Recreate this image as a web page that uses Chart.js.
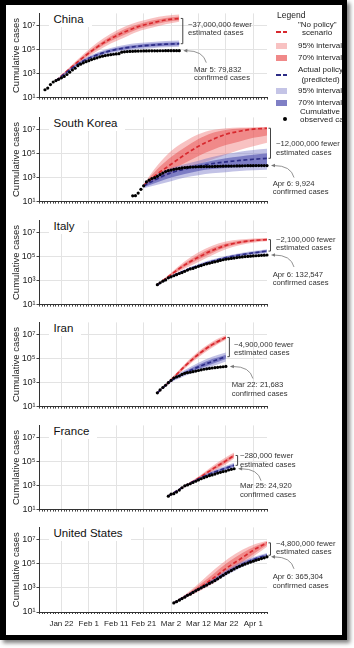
<!DOCTYPE html>
<html><head><meta charset="utf-8"><title>Anti-contagion policies and COVID-19 cases</title>
<script src="https://cdn.jsdelivr.net/npm/chart.js@4.4.1/dist/chart.umd.min.js"></script>
<style>
html,body{margin:0;padding:0;background:#fff;}
body{width:354px;height:648px;position:relative;overflow:hidden;font-family:'Liberation Sans',Arial,Helvetica,sans-serif;color:#222;}
#clip{position:absolute;left:0;top:0;width:342px;height:635px;overflow:hidden;background:#fff;}
#frame{position:absolute;left:0;top:0;width:347px;height:640px;box-sizing:border-box;border-style:solid;border-color:#000;border-width:5px 5px 5px 6px;box-shadow:3px 3px 4px rgba(0,0,0,0.5);pointer-events:none;}
canvas{position:absolute;left:0;}
.ttl{position:absolute;background:#fff;font-size:11.5px;line-height:13px;padding:0 8px 1px 5px;color:#111;white-space:nowrap;}
.note{position:absolute;font-size:7.7px;line-height:8.8px;color:#333;white-space:nowrap;}
.lg{position:absolute;font-size:8px;line-height:8px;color:#222;white-space:nowrap;}
.sw{position:absolute;}
</style></head><body>
<div id="clip">
 <div id="legend">
  <div class="lg" style="left:277px;top:10.5px;font-size:8.5px;line-height:9px">Legend</div>
  <div class="sw" style="left:276px;top:31.2px;width:5px;height:1.6px;background:#d8282e"></div>
  <div class="sw" style="left:283px;top:31.2px;width:4px;height:1.6px;background:#d8282e"></div>
  <div class="lg" style="left:298px;top:21px;width:38px;text-align:center">"No policy"<br>scenario</div>
  <div class="sw" style="left:276px;top:43px;width:11px;height:6px;background:#f8c2c2"></div>
  <div class="lg" style="left:298px;top:42px">95% interval</div>
  <div class="sw" style="left:276px;top:55px;width:11px;height:6px;background:#f08989"></div>
  <div class="lg" style="left:298px;top:54px">70% interval</div>
  <div class="sw" style="left:276px;top:74.2px;width:5px;height:1.6px;background:#2c2c86"></div>
  <div class="sw" style="left:283px;top:74.2px;width:4px;height:1.6px;background:#2c2c86"></div>
  <div class="lg" style="left:298px;top:65.25px;width:45px;text-align:center;line-height:9.5px">Actual policy<br>(predicted)</div>
  <div class="sw" style="left:276px;top:88px;width:11px;height:6px;background:#c4c4e6"></div>
  <div class="lg" style="left:298px;top:87px">95% interval</div>
  <div class="sw" style="left:276px;top:100px;width:11px;height:6px;background:#7f7fc5"></div>
  <div class="lg" style="left:298px;top:99px">70% interval</div>
  <div class="sw" style="left:282.7px;top:116.7px;width:4.6px;height:4.6px;border-radius:50%;background:#000"></div>
  <div class="lg" style="left:300px;top:107.75px">Cumulative<br>observed cases</div>
 </div>
</div>
<div id="frame"></div>
<script>
// ---------- axis ticks ----------
const dayLabels = ['Jan 22','Feb 1','Feb 11','Feb 21','Mar 2','Mar 12','Mar 22','Apr 1'];
const dayLabelValues = [0,10,20,30,40,50,60,70];           // days since Jan 22
const yTickValues = [1e1,1e2,1e3,1e4,1e5,1e6,1e7,1e8];
const yTickText   = ['10\u00B9','','10\u00B3','','10\u2075','','10\u2077',''];
const countryNames = ['China','South Korea','Italy','Iran','France','United States'];

// ---------- observed cumulative cases (daily) ----------
const chinaObsStart = -6;   // Jan 16
const chinaObserved = [45,62,121,198,258,330,440,571,830,1287,1975,2744,4515,5974,7711,9692,11791,14380,17205,20438,24324,28018,31161,34546,37198,40171,42638,44653,59804,63851,66492,68500,70548,72436,74185,74576,75465,76288,76936,77150,77658,78064,78497,78824,79251,79400,79550,79650,79740,79832];
const koreaObsStart = 26;   // Feb 17
const koreaObserved = [30,31,51,104,204,433,602,833,977,1261,1766,2337,3150,3736,4212,4812,5328,5766,6284,6767,7134,7382,7513,7755,7869,7979,8086,8162,8236,8320,8413,8565,8652,8799,8897,8961,9037,9137,9241,9332,9478,9583,9661,9700,9760,9800,9840,9870,9900,9924];
const italyObsStart = 35;   // Feb 26
const italyObserved = [453,655,888,1128,1694,2036,2502,3089,3858,4636,5883,7375,9172,10149,12462,15113,17660,21157,24747,27980,31506,35713,41035,47021,53578,59138,63927,69176,74386,80589,86498,92472,97689,101739,105792,110574,115242,119827,124632,128948,132547];
const iranObsStart = 35;    // Feb 26
const iranObserved = [139,245,388,593,978,1501,2336,2922,3513,4747,5823,6566,7161,8042,9000,10075,11364,12729,13938,14991,16169,17361,18407,19644,20610,21683];
const franceObsStart = 39;  // Mar 1
const franceObserved = [130,191,212,285,423,653,949,1126,1412,1784,2281,2876,3661,4499,5423,6633,7652,9043,10871,12612,14459,16018,19600,22100,24920];
const usObsStart = 41;      // Mar 3
const usObserved = [56,72,95,128,170,240,300,420,560,750,1000,1300,1700,2300,3000,4000,5600,7800,11000,15000,20000,27000,36000,47000,60000,75000,92000,112000,135000,162000,192000,225000,262000,305000,365304];

// ---------- model projections, log10(cases) ----------
const chinaModelDays = [-2,3,8,13,18,23,28,33,38,43];
const chinaNoPolicy = {
  mean:[2.4,3.4,4.35,5.2,5.9,6.45,6.9,7.2,7.45,7.58],
  lo95:[2.35,3.25,4.1,4.85,5.5,6.0,6.5,6.8,7.1,7.3], hi95:[2.45,3.55,4.6,5.55,6.3,6.9,7.3,7.6,7.8,7.9],
  lo70:[2.38,3.33,4.23,5.03,5.7,6.22,6.7,7.0,7.28,7.44], hi70:[2.42,3.47,4.47,5.37,6.1,6.68,7.1,7.4,7.62,7.74]};
const chinaActual = {
  mean:[2.4,3.3,4.05,4.55,4.9,5.12,5.27,5.37,5.44,5.48],
  lo95:[2.35,3.2,3.9,4.35,4.68,4.87,5.01,5.11,5.18,5.22], hi95:[2.45,3.4,4.2,4.75,5.12,5.37,5.53,5.63,5.7,5.74],
  lo70:[2.38,3.25,3.98,4.45,4.79,4.99,5.14,5.24,5.31,5.35], hi70:[2.42,3.35,4.12,4.65,5.01,5.25,5.4,5.5,5.57,5.61]};

const koreaModelDays = [30,35,40,45,50,55,60,65,70,75];
const koreaNoPolicy = {
  mean:[2.35,3.3,4.1,4.9,5.6,6.15,6.6,6.85,7.02,7.1],
  lo95:[2.3,2.8,3.3,3.7,4.1,4.5,4.9,5.3,5.6,5.9], hi95:[2.45,4.0,5.2,6.0,6.6,6.95,7.1,7.15,7.18,7.2],
  lo70:[2.32,3.0,3.6,4.2,4.8,5.3,5.7,6.0,6.3,6.5], hi70:[2.4,3.7,4.7,5.5,6.2,6.7,6.95,7.08,7.12,7.15]};
const koreaActual = {
  mean:[2.3,2.9,3.4,3.7,3.95,4.15,4.3,4.42,4.52,4.6],
  lo95:[2.1,2.4,2.7,3.0,3.2,3.35,3.45,3.55,3.6,3.65], hi95:[2.45,3.3,3.8,4.1,4.4,4.7,4.95,5.15,5.3,5.4],
  lo70:[2.2,2.6,3.0,3.3,3.55,3.7,3.8,3.85,3.9,3.95], hi70:[2.38,3.1,3.6,3.9,4.15,4.4,4.6,4.75,4.9,5.0]};

const italyModelDays = [35,40,45,50,55,60,65,70,75];
const italyNoPolicy = {
  mean:[2.65,3.5,4.3,4.95,5.5,5.92,6.18,6.33,6.4],
  lo95:[2.6,3.35,4.0,4.55,5.1,5.6,5.94,6.15,6.26], hi95:[2.7,3.65,4.6,5.35,5.9,6.25,6.42,6.5,6.53],
  lo70:[2.62,3.42,4.15,4.75,5.3,5.76,6.06,6.24,6.33], hi70:[2.68,3.58,4.45,5.15,5.7,6.08,6.3,6.42,6.47]};
const italyActual = {
  mean:[2.65,3.32,3.82,4.25,4.6,4.9,5.12,5.3,5.45],
  lo95:[2.62,3.26,3.72,4.13,4.46,4.76,4.97,5.15,5.3], hi95:[2.68,3.38,3.92,4.37,4.74,5.04,5.27,5.45,5.6],
  lo70:[2.63,3.29,3.77,4.19,4.53,4.83,5.04,5.22,5.37], hi70:[2.67,3.35,3.87,4.31,4.67,4.97,5.2,5.38,5.53]};

const iranModelDays = [35,40,45,50,55,60];
const iranNoPolicy = {
  mean:[2.15,3.2,4.35,5.35,6.15,6.75],
  lo95:[2.1,3.05,4.15,5.1,5.9,6.55], hi95:[2.2,3.35,4.55,5.6,6.4,6.95],
  lo70:[2.12,3.12,4.25,5.23,6.02,6.65], hi70:[2.18,3.28,4.45,5.47,6.28,6.85]};
const iranActual = {
  mean:[2.15,3.15,3.8,4.3,4.75,5.15],
  lo95:[2.1,3.0,3.55,3.95,4.35,4.75], hi95:[2.2,3.3,4.05,4.65,5.15,5.5],
  lo70:[2.12,3.08,3.68,4.13,4.55,4.95], hi70:[2.18,3.22,3.92,4.47,4.95,5.32]};

const franceModelDays = [39,45,50,55,60,63];
const franceNoPolicy = {
  mean:[2.12,2.95,3.6,4.35,5.05,5.5],
  lo95:[2.09,2.88,3.45,4.1,4.75,5.25], hi95:[2.15,3.02,3.75,4.6,5.35,5.75],
  lo70:[2.1,2.91,3.52,4.22,4.9,5.37], hi70:[2.14,2.99,3.68,4.48,5.2,5.63]};
const franceActual = {
  mean:[2.12,2.95,3.55,4.05,4.45,4.68],
  lo95:[2.09,2.9,3.45,3.9,4.25,4.46], hi95:[2.15,3.0,3.65,4.2,4.65,4.9],
  lo70:[2.1,2.92,3.5,3.97,4.35,4.56], hi70:[2.14,2.98,3.6,4.13,4.55,4.8]};

const usModelDays = [41,46,51,56,61,66,71,75];
const usNoPolicy = {
  mean:[1.75,2.4,3.1,3.9,4.75,5.5,6.25,6.72],
  lo95:[1.7,2.25,2.8,3.45,4.2,4.95,5.75,6.4], hi95:[1.8,2.6,3.55,4.55,5.45,6.15,6.65,6.9],
  lo70:[1.72,2.3,2.9,3.6,4.4,5.15,5.95,6.55], hi70:[1.78,2.5,3.35,4.25,5.15,5.88,6.47,6.82]};
const usActual = {
  mean:[1.75,2.4,3.0,3.65,4.35,4.95,5.42,5.7],
  lo95:[1.7,2.3,2.88,3.48,4.14,4.73,5.2,5.52], hi95:[1.8,2.5,3.15,3.85,4.6,5.2,5.62,5.88],
  lo70:[1.72,2.35,2.93,3.55,4.22,4.82,5.3,5.6], hi70:[1.78,2.45,3.08,3.76,4.48,5.08,5.53,5.8]};

// ---------- annotation texts ----------
const fewerTexts = ['~37,000,000 fewer','~12,000,000 fewer','~2,100,000 fewer','~4,900,000 fewer','~280,000 fewer','~4,800,000 fewer'];
const confirmedTexts = ['Mar 5: 79,832','Apr 6: 9,924','Apr 6: 132,547','Mar 22: 21,683','Mar 25: 24,920','Apr 6: 365,304'];

// ---------- layout / style ----------
const panelBottom = [98,202,305,407,510,612];
const plotH = 85, padTop = 6, canvasW = 342, padLeft = 7, plotLeft = 39.5, plotRight = 267;
const xAxisH = [6,6,6,6,6,20];
const noteLayout = [
  {fx:188, fy:20.6, cx:194, cy:65.6},
  {fx:276, fy:139.9, cx:272.7, cy:179.6},
  {fx:276, fy:235.6, cx:272.7, cy:270.6},
  {fx:234, fy:340.6, cx:231.7, cy:381.3},
  {fx:240, fy:452.3, cx:240, cy:482.3},
  {fx:276, fy:539.6, cx:272.7, cy:572.9}
];
const COLORS = {red95:'rgba(240,120,120,0.45)', red70:'rgba(232,80,80,0.5)', blue95:'rgba(120,120,200,0.45)', blue70:'rgba(70,70,170,0.55)',
  redLine:'#d8282e', blueLine:'#2c2c86', grid:'#e3e3e3', axis:'#333', tick:'#444'};

const panels = [
  {obsStart:chinaObsStart, obs:chinaObserved, days:chinaModelDays, red:chinaNoPolicy, blue:chinaActual},
  {obsStart:koreaObsStart, obs:koreaObserved, days:koreaModelDays, red:koreaNoPolicy, blue:koreaActual},
  {obsStart:italyObsStart, obs:italyObserved, days:italyModelDays, red:italyNoPolicy, blue:italyActual},
  {obsStart:iranObsStart, obs:iranObserved, days:iranModelDays, red:iranNoPolicy, blue:iranActual},
  {obsStart:franceObsStart, obs:franceObserved, days:franceModelDays, red:franceNoPolicy, blue:franceActual},
  {obsStart:usObsStart, obs:usObserved, days:usModelDays, red:usNoPolicy, blue:usActual}
];

const xTickDays = []; for (let d = -8; d <= 75; d++) xTickDays.push(d);

Chart.defaults.font.family = "'Liberation Sans', Arial, Helvetica, sans-serif";
Chart.defaults.color = '#222';

const mk = (days, logs) => days.map((d, i) => ({x: d, y: Math.pow(10, logs[i])}));
const obsPts = (start, vals) => vals.map((v, i) => ({x: start + i, y: v}));

const annotPlugin = {
  id: 'annot',
  afterDatasetsDraw(chart) {
    const o = chart.options.plugins.annot; if (!o) return;
    const ctx = chart.ctx, xs = chart.scales.x, ys = chart.scales.y;
    const xe = xs.getPixelForValue(o.endDay);
    const yR = ys.getPixelForValue(o.redEnd), yB = ys.getPixelForValue(o.blueEnd), yO = ys.getPixelForValue(o.obsEnd);
    ctx.save();
    const bx = xe + 3.5;
    ctx.strokeStyle = '#444'; ctx.lineWidth = 1;
    ctx.beginPath(); ctx.moveTo(bx - 2, yR); ctx.lineTo(bx, yR); ctx.lineTo(bx, yB); ctx.lineTo(bx - 2, yB); ctx.stroke();
    const hx = xe + 4, hy = yO, tx = xe + 27, ty = yO + 12;
    ctx.strokeStyle = '#777'; ctx.lineWidth = 0.8;
    ctx.beginPath(); ctx.moveTo(tx, ty); ctx.quadraticCurveTo(tx - 3, hy, hx + 3, hy); ctx.stroke();
    ctx.fillStyle = '#777';
    ctx.beginPath(); ctx.moveTo(hx, hy); ctx.lineTo(hx + 4, hy - 1.8); ctx.lineTo(hx + 4, hy + 1.8); ctx.closePath(); ctx.fill();
    ctx.restore();
  }
};

const clip = document.getElementById('clip');
const legendEl = document.getElementById('legend');

panels.forEach((p, k) => {
  const isLast = k === panels.length - 1;
  const h = padTop + plotH + xAxisH[k];
  const canvas = document.createElement('canvas');
  canvas.width = canvasW; canvas.height = h;
  canvas.style.width = canvasW + 'px'; canvas.style.height = h + 'px';
  canvas.style.top = (panelBottom[k] - plotH - padTop) + 'px';
  clip.insertBefore(canvas, legendEl);

  const ds = [];
  const band = (lo, hi, color, order) => {
    ds.push({data: mk(p.days, lo), borderColor:'rgba(0,0,0,0)', borderWidth:0, pointRadius:0, fill:false, order, cubicInterpolationMode:'monotone'});
    ds.push({data: mk(p.days, hi), borderColor:'rgba(0,0,0,0)', borderWidth:0, pointRadius:0, fill:'-1', backgroundColor:color, order, cubicInterpolationMode:'monotone'});
  };
  band(p.red.lo95, p.red.hi95, COLORS.red95, 10);
  band(p.red.lo70, p.red.hi70, COLORS.red70, 9);
  band(p.blue.lo95, p.blue.hi95, COLORS.blue95, 8);
  band(p.blue.lo70, p.blue.hi70, COLORS.blue70, 7);
  ds.push({data: mk(p.days, p.red.mean), borderColor:COLORS.redLine, borderWidth:1.7, borderDash:[4,2.5], pointRadius:0, fill:false, order:6, cubicInterpolationMode:'monotone'});
  ds.push({data: mk(p.days, p.blue.mean), borderColor:COLORS.blueLine, borderWidth:1.7, borderDash:[4,2.5], pointRadius:0, fill:false, order:5, cubicInterpolationMode:'monotone'});
  ds.push({data: obsPts(p.obsStart, p.obs), showLine:false, borderColor:'rgba(0,0,0,0)', pointRadius:1.6, pointBackgroundColor:'#000', pointBorderWidth:0, order:1, clip:4, fill:false});

  const last = p.days.length - 1;
  new Chart(canvas, {
    type: 'line',
    data: {datasets: ds},
    plugins: [annotPlugin],
    options: {
      responsive:false, animation:false, devicePixelRatio:1,
      layout:{padding:{left:padLeft, right:canvasW - plotRight, top:padTop, bottom:0}},
      plugins:{legend:{display:false}, tooltip:{enabled:false},
        annot:{endDay:p.obsStart + p.obs.length - 1, obsEnd:p.obs[p.obs.length - 1],
               redEnd:Math.pow(10, p.red.mean[last]), blueEnd:Math.pow(10, p.blue.mean[last])}},
      scales:{
        x:{type:'linear', min:-8, max:75,
          afterBuildTicks: s => { s.ticks = xTickDays.map(v => ({value:v})); },
          afterFit: s => { s.height = xAxisH[k]; },
          ticks:{autoSkip:false, maxRotation:0, minRotation:0, padding:5, font:{size:8}, color:'#222',
            callback: v => { const i = dayLabelValues.indexOf(v); return (isLast && i >= 0) ? dayLabels[i] : ''; }},
          grid:{color: c => (c.tick && c.tick.value % 10 === 0) ? COLORS.grid : 'rgba(0,0,0,0)', tickColor:COLORS.tick, tickLength:2, lineWidth:1},
          border:{display:true, color:COLORS.axis, width:1}
        },
        y:{type:'logarithmic', min:10, max:1e8,
          afterBuildTicks: s => { s.ticks = yTickValues.map(v => ({value:v})); },
          afterFit: s => { s.width = plotLeft - padLeft; },
          ticks:{padding:1, font:{size:9}, color:'#222',
            callback: v => { const i = yTickValues.indexOf(v); return i >= 0 ? yTickText[i] : ''; }},
          grid:{color:COLORS.grid, tickColor:COLORS.tick, tickLength:3, lineWidth:1},
          border:{display:true, color:COLORS.axis, width:1},
          title:{display:true, text:'Cumulative cases', font:{size:9.5}, color:'#222', padding:{top:4, bottom:0}}
        }
      }
    }
  });

  // panel title
  const t = document.createElement('div');
  t.className = 'ttl'; t.textContent = countryNames[k];
  t.style.left = '48.5px'; t.style.top = (panelBottom[k] - plotH) + 'px';
  clip.insertBefore(t, legendEl);
  // notes
  const L = noteLayout[k];
  const n1 = document.createElement('div'); n1.className = 'note';
  n1.innerHTML = fewerTexts[k] + '<br>estimated cases';
  n1.style.left = L.fx + 'px'; n1.style.top = L.fy + 'px';
  const n2 = document.createElement('div'); n2.className = 'note';
  n2.innerHTML = confirmedTexts[k] + '<br>confirmed cases';
  n2.style.left = L.cx + 'px'; n2.style.top = L.cy + 'px';
  clip.insertBefore(n1, legendEl); clip.insertBefore(n2, legendEl);
});
</script>
</body></html>
